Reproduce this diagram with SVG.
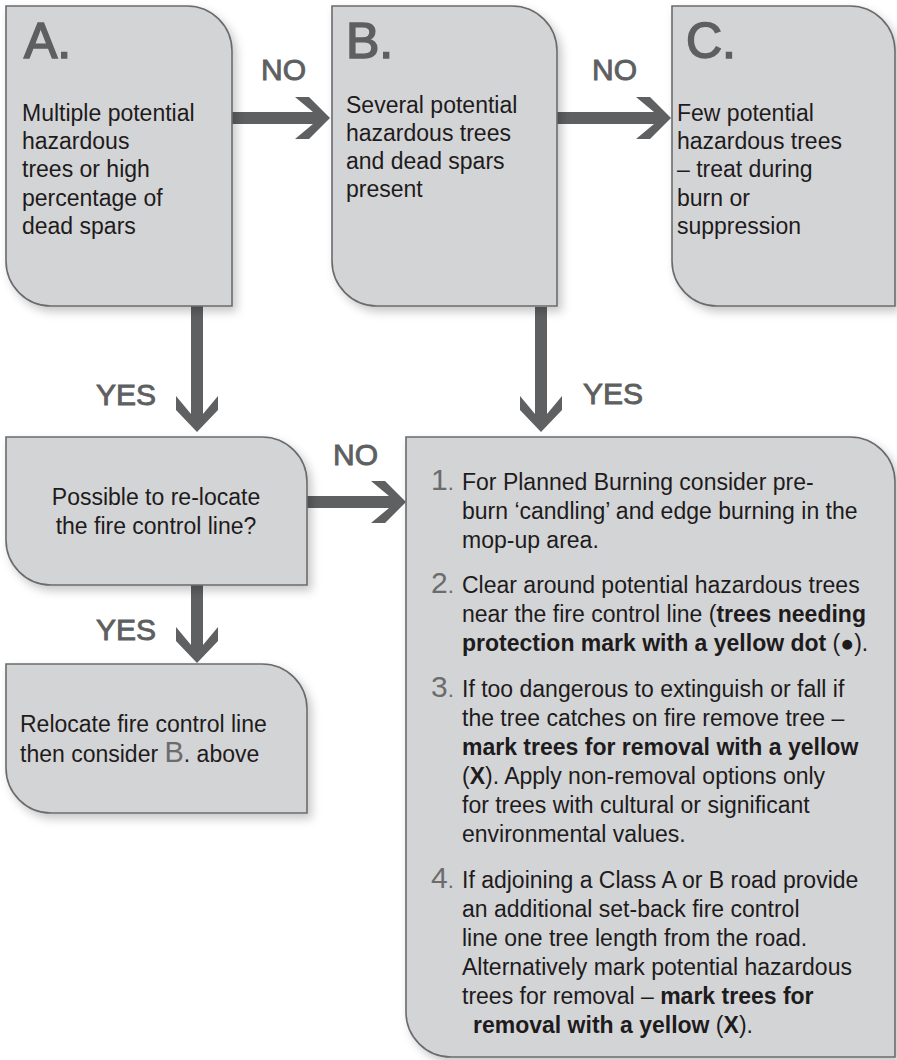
<svg xmlns="http://www.w3.org/2000/svg" width="897" height="1060" viewBox="0 0 897 1060">
<defs>
<filter id="sh" x="-10%" y="-10%" width="125%" height="125%">
<feDropShadow dx="4" dy="5" stdDeviation="5" flood-color="#000" flood-opacity="0.22"/>
</filter>
</defs>
<style>
.box{fill:#d3d4d6;stroke:#6a6b6d;stroke-width:1.6;filter:url(#sh)}
.t{font-family:"Liberation Sans",Arial,sans-serif;font-size:23px;fill:#1e1b1c}
.b{font-weight:bold}
.big{font-family:"Liberation Sans",Arial,sans-serif;font-size:50px;fill:#5e5f61;stroke:#5e5f61;stroke-width:1.6}
.num{font-family:"Liberation Sans",Arial,sans-serif;font-size:30px;fill:#6b6c6e}
.lbl{font-family:"Liberation Sans",Arial,sans-serif;font-size:30px;fill:#5e5f61;stroke:#5e5f61;stroke-width:0.9}
.arr{fill:#5f6062}
</style>
<rect width="897" height="1060" fill="#ffffff"/>

<g id="connectors">
<polygon class="arr" points="232,112 313,112 295,97 309,97 330,118 309,139 295,139 313,124 232,124"/>
<polygon class="arr" points="557,112 654,112 636,97 650,97 671,118 650,139 636,139 654,124 557,124"/>
<polygon class="arr" points="191,306 191,414 176,396 176,410 197,432 218,410 218,396 203,414 203,306"/>
<polygon class="arr" points="535,307 535,414 520,396 520,410 541,432 562,410 562,396 547,414 547,307"/>
<polygon class="arr" points="307,496 389,496 371,481 385,481 406,502 385,523 371,523 389,508 307,508"/>
<polygon class="arr" points="191,585 191,645 176,627 176,641 197,663 218,641 218,627 203,645 203,585"/>
<text class="lbl" x="261" y="80">NO</text>
<text class="lbl" x="592" y="80">NO</text>
<text class="lbl" x="96" y="405">YES</text>
<text class="lbl" x="583" y="404">YES</text>
<text class="lbl" x="333" y="465">NO</text>
<text class="lbl" x="96" y="640">YES</text>
</g>

<g id="nodeA">
<path class="box" d="M6 6 H187 A45 45 0 0 1 232 51 V306 H51 A45 45 0 0 1 6 261 Z"/>
<text class="big" x="24" y="58">A.</text>
<text class="t" x="22" y="121">Multiple potential</text>
<text class="t" x="22" y="149">hazardous</text>
<text class="t" x="22" y="177">trees or high</text>
<text class="t" x="22" y="206">percentage of</text>
<text class="t" x="22" y="234">dead spars</text>
</g>

<g id="nodeB">
<path class="box" d="M332 6 H512 A45 45 0 0 1 557 51 V306 H377 A45 45 0 0 1 332 261 Z"/>
<text class="big" x="346" y="58">B.</text>
<text class="t" x="346" y="113">Several potential</text>
<text class="t" x="346" y="141">hazardous trees</text>
<text class="t" x="346" y="169">and dead spars</text>
<text class="t" x="346" y="197">present</text>
</g>

<g id="nodeC">
<path class="box" d="M672 6 H850 A45 45 0 0 1 895 51 V306 H717 A45 45 0 0 1 672 261 Z"/>
<text class="big" x="686" y="58">C.</text>
<text class="t" x="677" y="121">Few potential</text>
<text class="t" x="677" y="149">hazardous trees</text>
<text class="t" x="677" y="177">– treat during</text>
<text class="t" x="677" y="206">burn or</text>
<text class="t" x="677" y="234">suppression</text>
</g>

<g id="nodeRelocateQ">
<path class="box" d="M6 437 H262 A45 45 0 0 1 307 482 V585 H51 A45 45 0 0 1 6 540 Z"/>
<text class="t" x="156" y="505" text-anchor="middle">Possible to re-locate</text>
<text class="t" x="156" y="534" text-anchor="middle">the fire control line?</text>
</g>

<g id="nodeRelocate">
<path class="box" d="M6 664 H262 A45 45 0 0 1 307 709 V813 H51 A45 45 0 0 1 6 768 Z"/>
<text class="t" x="20" y="732">Relocate fire control line</text>
<text class="t" x="20" y="762">then consider <tspan style="font-size:29px;fill:#6b6c6e">B</tspan>. above</text>
</g>

<g id="nodeActions">
<path class="box" d="M406 437 H850 A45 45 0 0 1 895 482 V1057 H451 A45 45 0 0 1 406 1012 Z"/>
<text class="num" x="431" y="490">1<tspan style="font-size:22px">.</tspan></text>
<text class="t" x="462" y="490">For Planned Burning consider pre-</text>
<text class="t" x="462" y="519">burn ‘candling’ and edge burning in the</text>
<text class="t" x="462" y="548">mop-up area.</text>

<text class="num" x="431" y="593">2<tspan style="font-size:22px">.</tspan></text>
<text class="t" x="462" y="593">Clear around potential hazardous trees</text>
<text class="t" x="462" y="622">near the fire control line (<tspan class="b">trees needing</tspan></text>
<text class="t" x="462" y="651"><tspan class="b">protection mark with a yellow dot</tspan> (<tspan class="b">●</tspan>).</text>

<text class="num" x="431" y="697">3<tspan style="font-size:22px">.</tspan></text>
<text class="t" x="462" y="697">If too dangerous to extinguish or fall if</text>
<text class="t" x="462" y="726">the tree catches on fire remove tree –</text>
<text class="t b" x="462" y="755">mark trees for removal with a yellow</text>
<text class="t" x="462" y="784">(<tspan class="b">X</tspan>). Apply non-removal options only</text>
<text class="t" x="462" y="813">for trees with cultural or significant</text>
<text class="t" x="462" y="842">environmental values.</text>

<text class="num" x="431" y="888">4<tspan style="font-size:22px">.</tspan></text>
<text class="t" x="462" y="888">If adjoining a Class A or B road provide</text>
<text class="t" x="462" y="917">an additional set-back fire control</text>
<text class="t" x="462" y="946">line one tree length from the road.</text>
<text class="t" x="462" y="975">Alternatively mark potential hazardous</text>
<text class="t" x="462" y="1004">trees for removal – <tspan class="b">mark trees for</tspan></text>
<text class="t" x="473" y="1033"><tspan class="b">removal with a yellow</tspan> (<tspan class="b">X</tspan>).</text>
</g>
</svg>
